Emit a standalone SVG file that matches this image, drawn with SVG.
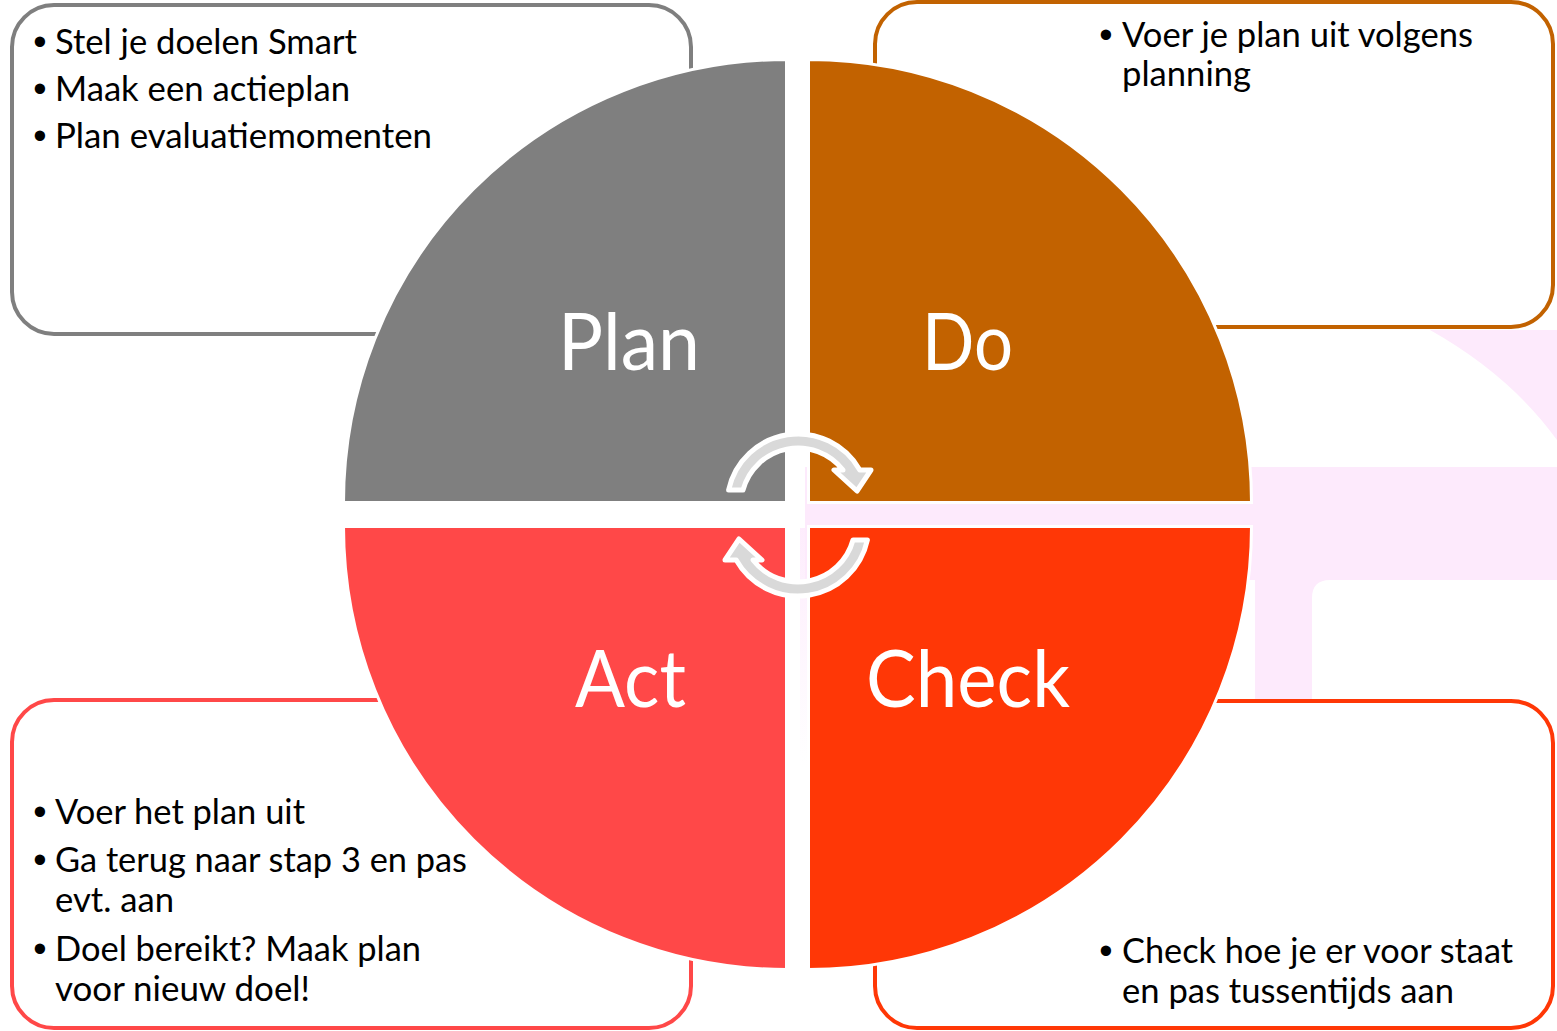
<svg xmlns="http://www.w3.org/2000/svg" width="1557" height="1031" viewBox="0 0 1557 1031">
  <style>
    .box { fill: #ffffff; stroke-width: 4; }
    .quad { stroke: #ffffff; stroke-width: 3; stroke-linejoin: miter; }
    .lbl { font-family: Lato, "Open Sans", "Liberation Sans", sans-serif; font-size: 80px; fill: #ffffff; }
    .txt { font-family: Lato, "Open Sans", "Liberation Sans", sans-serif; font-size: 34px; fill: #000000; }
    .bul { font-family: "Liberation Sans", Arial, sans-serif; font-size: 38px; fill: #000000; text-anchor: middle; }
    .arrow { fill: #d9d9d9; stroke: #ffffff; stroke-width: 5; stroke-linejoin: round; }
  </style>
  <defs>
    <linearGradient id="fade" x1="0" y1="0" x2="0" y2="1">
      <stop offset="0" stop-color="#fdeafc" stop-opacity="0.9"/>
      <stop offset="1" stop-color="#fdeafc" stop-opacity="0"/>
    </linearGradient>
  </defs>
  <rect x="0" y="0" width="1557" height="1031" fill="#ffffff"/>

  <!-- faint background watermark -->
  <g id="watermark" fill="#fdeafc">
    <path d="M 805 467 H 1557 V 580 H 1330 Q 1312 580 1312 598 V 700 H 1255 V 580 H 805 Z"/>
    <path d="M 1430 330 Q 1510 375 1557 440 L 1557 330 Z"/>
    <rect x="800" y="528" width="9" height="240" fill="url(#fade)"/>
  </g>

  <!-- text boxes -->
  <g id="box-plan">
    <rect class="box" x="12" y="5" width="679" height="329" rx="42" stroke="#7f7f7f"/>
    <text class="bul" x="40" y="55">•</text>
    <text class="txt" x="55" y="54" textLength="302" lengthAdjust="spacingAndGlyphs">Stel je doelen Smart</text>
    <text class="bul" x="40" y="102">•</text>
    <text class="txt" x="55" y="101" textLength="295" lengthAdjust="spacingAndGlyphs">Maak een actieplan</text>
    <text class="bul" x="40" y="149">•</text>
    <text class="txt" x="55" y="148" textLength="377" lengthAdjust="spacingAndGlyphs">Plan evaluatiemomenten</text>
  </g>
  <g id="box-do">
    <rect class="box" x="875" y="2" width="678" height="325" rx="42" stroke="#c26200"/>
    <text class="bul" x="1106" y="48">•</text>
    <text class="txt" x="1122" y="47" textLength="351" lengthAdjust="spacingAndGlyphs">Voer je plan uit volgens</text>
    <text class="txt" x="1122" y="86" textLength="129" lengthAdjust="spacingAndGlyphs">planning</text>
  </g>
  <g id="box-act">
    <rect class="box" x="12" y="700" width="679" height="328" rx="42" stroke="#ff4848"/>
    <text class="bul" x="40" y="825">•</text>
    <text class="txt" x="55" y="824" textLength="250" lengthAdjust="spacingAndGlyphs">Voer het plan uit</text>
    <text class="bul" x="40" y="873">•</text>
    <text class="txt" x="55" y="872" textLength="412" lengthAdjust="spacingAndGlyphs">Ga terug naar stap 3 en pas</text>
    <text class="txt" x="55" y="912" textLength="119" lengthAdjust="spacingAndGlyphs">evt. aan</text>
    <text class="bul" x="40" y="962">•</text>
    <text class="txt" x="55" y="961" textLength="366" lengthAdjust="spacingAndGlyphs">Doel bereikt? Maak plan</text>
    <text class="txt" x="55" y="1001" textLength="255" lengthAdjust="spacingAndGlyphs">voor nieuw doel!</text>
  </g>
  <g id="box-check">
    <rect class="box" x="875" y="701" width="678" height="327" rx="42" stroke="#ff3706"/>
    <text class="bul" x="1106" y="964">•</text>
    <text class="txt" x="1122" y="963" textLength="391" lengthAdjust="spacingAndGlyphs">Check hoe je er voor staat</text>
    <text class="txt" x="1122" y="1003" textLength="332" lengthAdjust="spacingAndGlyphs">en pas tussentijds aan</text>
  </g>

  <!-- quadrants -->
  <g id="plan">
    <path class="quad" fill="#7f7f7f" d="M 786.5 502.5 L 343.5 502.5 A 443 443 0 0 1 786.5 59.5 Z"/>
    <text class="lbl" x="558" y="370" textLength="142" lengthAdjust="spacingAndGlyphs">Plan</text>
  </g>
  <g id="do">
    <path class="quad" fill="#c26200" d="M 808.5 502.5 L 808.5 59.5 A 443 443 0 0 1 1251.5 502.5 Z"/>
    <text class="lbl" x="922" y="370" textLength="91" lengthAdjust="spacingAndGlyphs">Do</text>
  </g>
  <g id="act">
    <path class="quad" fill="#ff4848" d="M 786.5 526.5 L 786.5 969.5 A 443 443 0 0 1 343.5 526.5 Z"/>
    <text class="lbl" x="575" y="707" textLength="111" lengthAdjust="spacingAndGlyphs">Act</text>
  </g>
  <g id="check">
    <path class="quad" fill="#ff3706" d="M 808.5 526.5 L 1251.5 526.5 A 443 443 0 0 1 808.5 969.5 Z"/>
    <text class="lbl" x="866" y="707" textLength="204" lengthAdjust="spacingAndGlyphs">Check</text>
  </g>

  <!-- cycle arrows -->
  <g id="connectors">
    <path class="arrow" d="M 728.6 490 A 71 71 0 0 1 859.8 470 L 871 470 L 857 491 L 834 470 L 843 470 A 57 57 0 0 0 743 490 Z"/>
    <path class="arrow" transform="rotate(180 798 515)" d="M 728.6 490 A 71 71 0 0 1 859.8 470 L 871 470 L 857 491 L 834 470 L 843 470 A 57 57 0 0 0 743 490 Z"/>
  </g>
</svg>
